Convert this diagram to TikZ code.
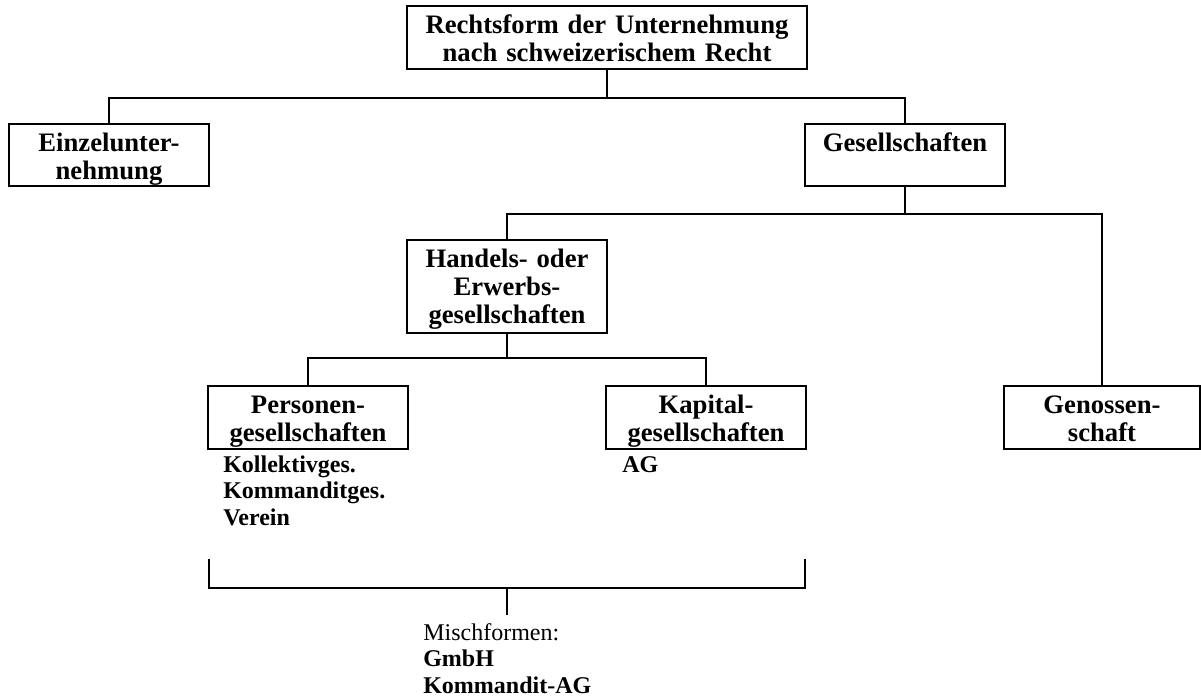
\documentclass[tikz,border=0pt]{standalone}
\usepackage{fontspec}
\setmainfont{Liberation Serif}
\usepackage{tikz}
\newcommand{\kastenschrift}{\fontsize{20pt}{21pt}\selectfont\bfseries}
\newcommand{\listenschrift}{\fontsize{18pt}{20pt}\selectfont}
\tikzset{
	kasten/.style={draw, line width=1.5pt, inner sep=0pt, anchor=north, align=center, text width=150pt, text height=20.25pt, font=\kastenschrift},
	liste/.style={inner sep=0pt, anchor=base west, align=left, text width=150pt, font=\listenschrift\bfseries},
	linie/.style={line width=1.5pt}
}

\begin{document}
\begin{tikzpicture}[x=0.75pt,y=-0.75pt]
	\useasboundingbox (0,0) rectangle (1201,697);
	\node[kasten, text width=300pt, text depth=27pt] (rechtsform) at (607,5) {Rechtsform der Unternehmung\\nach schweizerischem Recht};
	\node[kasten, text depth=26.25pt] (einzel) at (109,123) {Einzelunter-\\nehmung};
	\node[kasten, text depth=26.25pt] (gesell) at (905,123) {Gesellschaften};
	\node[kasten, text depth=49.5pt] (handels) at (507,239) {Handels- oder\\Erwerbs-\\gesellschaften};
	\node[kasten, text depth=27pt] (personen) at (308,385) {Personen-\\gesellschaften};
	\node[kasten, text depth=27pt] (kapital) at (706,385) {Kapital-\\gesellschaften};
	\node[kasten, text width=147pt, text depth=27pt] (genossen) at (1102,385) {Genossen-\\schaft};
	\node[liste] (personenliste) at (223,472) {Kollektivges.\\Kommanditges.\\Verein};
	\node[liste] (kapitalliste) at (622,472) {AG};
	\node[liste] (misch) at (423,640) {{\mdseries Mischformen:}\\GmbH\\Kommandit-AG};
	\draw[linie] (rechtsform.south) -- ++(0,28) coordinate (k1);
	\draw[linie] (einzel.north) |- (k1) -| (gesell.north);
	\draw[linie] (gesell.south) -- ++(0,27) coordinate (k2);
	\draw[linie] (handels.north) |- (k2) -| (genossen.north);
	\draw[linie] (handels.south) -- ++(0,24) coordinate (k3);
	\draw[linie] (personen.north) |- (k3) -| (kapital.north);
	\coordinate (klinks) at (209,559);
	\coordinate (krechts) at (805,559);
	\coordinate (kmitte) at (507,588);
	\draw[linie] (klinks) |- (kmitte) -| (krechts);
	\draw[linie, shorten >=6pt] (kmitte) -- (kmitte |- misch.north);
\end{tikzpicture}
\end{document}
